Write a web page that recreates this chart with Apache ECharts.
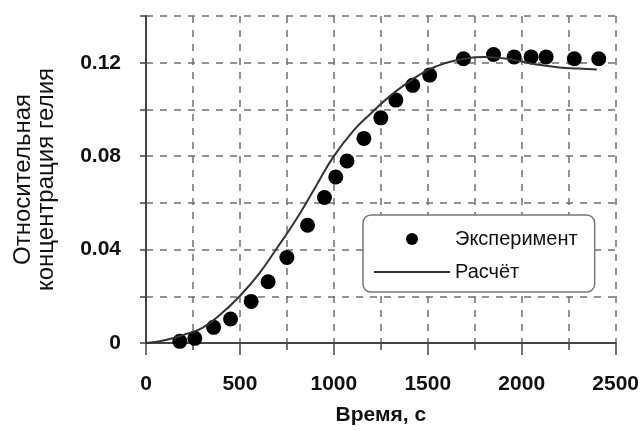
<!DOCTYPE html>
<html>
<head>
<meta charset="utf-8">
<script src="https://cdn.jsdelivr.net/npm/echarts@6/dist/echarts.min.js"></script>
<style>
html,body{margin:0;padding:0;background:#fff;}
#main{width:642px;height:431px;}
</style>
</head>
<body>
<div id="main"></div>
<script>
// эксперимент
var expTime = [180, 260, 360, 450, 560, 650, 750, 860, 950, 1010, 1070, 1160, 1250, 1330, 1420, 1510, 1690, 1850, 1960, 2050, 2130, 2280, 2410];
var expConc = [0.0007, 0.002, 0.0067, 0.0103, 0.0178, 0.0262, 0.0366, 0.0504, 0.0623, 0.0711, 0.0779, 0.0876, 0.0964, 0.1040, 0.1103, 0.1147, 0.1217, 0.1235, 0.1225, 0.1225, 0.1225, 0.1217, 0.1217];
// расчёт
var calcTime = [0, 100, 200, 300, 400, 500, 600, 700, 800, 900, 1000, 1100, 1200, 1300, 1400, 1500, 1600, 1700, 1800, 1900, 2000, 2100, 2200, 2300, 2400];
var calcConc = [0, 0.0012, 0.0035, 0.0065, 0.0125, 0.0202, 0.0295, 0.0410, 0.0530, 0.0665, 0.0800, 0.0905, 0.0985, 0.1058, 0.1118, 0.1168, 0.1200, 0.1218, 0.1224, 0.1219, 0.1205, 0.1190, 0.1180, 0.1175, 0.1171];

var legendNames = ['Эксперимент', 'Расчёт'];

function pairs(xs, ys) {
	var out = [];
	for (var i = 0; i < xs.length; i++) {
		out.push([xs[i], ys[i]]);
	}
	return out;
}

var myChart = echarts.init(document.getElementById('main'));
var dash = {color: '#707070', width: 1.5, type: [7, 7]};
var option = {
	backgroundColor: '#fff',
	animation: false,
	grid: {left: 146, right: 26, top: 16, bottom: 87},
	legend: {
		orient: 'vertical',
		left: 363,
		top: 215,
		itemWidth: 76,
		itemHeight: 12,
		itemGap: 13,
		itemTextGap: 8,
		padding: [14, 17, 10, 10],
		borderColor: '#777',
		borderWidth: 1.5,
		borderRadius: 8,
		backgroundColor: '#fff',
		textStyle: {color: '#111', fontSize: 20, fontFamily: 'Liberation Sans'},
		data: [
			{name: legendNames[0]},
			{name: legendNames[1], itemStyle: {opacity: 0}}
		]
	},
	xAxis: {
		type: 'value',
		min: 0,
		max: 2500,
		interval: 500,
		name: 'Время, с',
		nameLocation: 'middle',
		nameGap: 62,
		nameTextStyle: {color: '#111', fontSize: 21, fontWeight: 'bold', fontFamily: 'Liberation Sans'},
		axisLine: {lineStyle: {color: '#444', width: 2}},
		axisTick: {show: true, length: 12, lineStyle: {color: '#444', width: 1.5}},
		minorTick: {show: true, splitNumber: 2, length: 7, lineStyle: {color: '#444', width: 1.5}},
		axisLabel: {
			margin: 31,
			color: '#111',
			fontSize: 21,
			fontWeight: 'bold',
			fontFamily: 'Liberation Sans',
			formatter: function(v) { return String(v); }
		},
		splitLine: {show: true, lineStyle: dash},
		minorSplitLine: {show: true, lineStyle: dash}
	},
	yAxis: {
		type: 'value',
		min: 0,
		max: 0.14,
		interval: 0.02,
		name: 'Относительная\nконцентрация гелия',
		nameLocation: 'middle',
		nameRotate: 90,
		nameGap: 88,
		nameTextStyle: {color: '#111', fontSize: 24, lineHeight: 23, fontFamily: 'Liberation Sans'},
		axisLine: {show: true, lineStyle: {color: '#444', width: 2}},
		axisTick: {show: true, length: 6, lineStyle: {color: '#444', width: 1.5}},
		axisLabel: {
			margin: 25,
			color: '#111',
			fontSize: 21,
			fontWeight: 'bold',
			fontFamily: 'Liberation Sans',
			formatter: function(v) {
				var n = Math.round(v * 100);
				if (n % 4 !== 0) return '';
				return n === 0 ? '0' : v.toFixed(2);
			}
		},
		splitLine: {show: true, lineStyle: dash}
	},
	series: [{
		name: 'Эксперимент',
		type: 'scatter',
		symbol: 'circle',
		symbolSize: 15,
		itemStyle: {color: '#000', opacity: 1},
		z: 3,
		data: pairs(expTime, expConc)
	}, {
		name: 'Расчёт',
		type: 'line',
		smooth: true,
		symbol: 'none',
		showSymbol: false,
		lineStyle: {color: '#333', width: 2},
		itemStyle: {color: '#333'},
		z: 4,
		data: pairs(calcTime, calcConc)
	}]
};
myChart.setOption(option);
</script>
</body>
</html>
